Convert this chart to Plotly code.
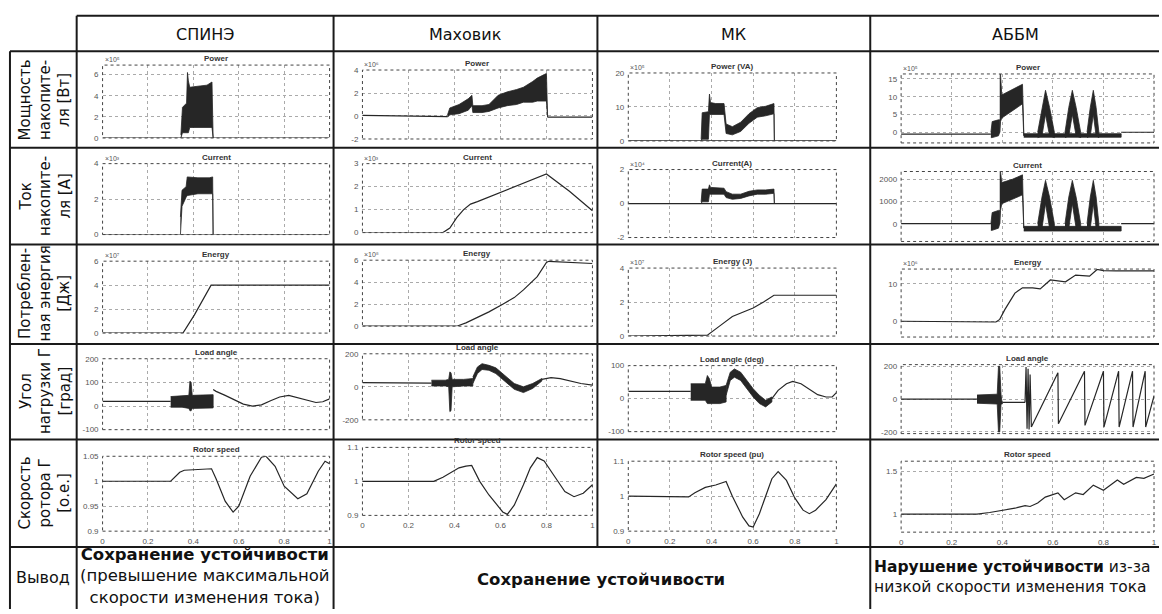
import plotly.graph_objects as go

W, H = 1162, 614

# ---------------- table text ----------------
col_headers = ["СПИНЭ", "Маховик", "МК", "АББМ"]
row_labels = [
    "Мощность<br>накопите-<br>ля [Вт]",
    "Ток<br>накопите-<br>ля [А]",
    "Потреблен-<br>ная энергия<br>[Дж]",
    "Угол<br>нагрузки Г<br>[град]",
    "Скорость<br>ротора Г<br>[о.е.]",
]
conclusion_label = "Вывод"
conclusion_col1 = "<b>Сохранение устойчивости</b><br>(превышение максимальной<br>скорости изменения тока)"
conclusion_col23 = "<b>Сохранение устойчивости</b>"
conclusion_col4 = "<b>Нарушение устойчивости</b> из-за<br>низкой скорости изменения тока"

# ---------------- shared axis ticks ----------------
x_ticks = [0, 0.2, 0.4, 0.6, 0.8, 1]
x_tick_labels = ["0", "0.2", "0.4", "0.6", "0.8", "1"]

# ---------------- СПИНЭ ----------------
spine_p_base_x = [0, 1]
spine_p_base_y = [0, 0]
spine_p_band_x = [0.345, 0.352, 0.370, 0.374, 0.378, 0.384, 0.42, 0.46, 0.482, 0.487]
spine_p_band_hi = [0.3, 2.9, 3.3, 6.2, 5.4, 4.8, 4.9, 5.0, 5.3, 0.3]
spine_p_band_lo = [0.0, 0.5, 0.5, 0.5, 0.5, 1.0, 1.0, 1.0, 1.0, 0.0]

spine_i_base_x = [0, 1]
spine_i_base_y = [0, 0]
spine_i_band_x = [0.343, 0.350, 0.368, 0.373, 0.42, 0.47, 0.485, 0.487]
spine_i_band_hi = [1.0, 2.5, 2.7, 3.25, 3.2, 3.2, 3.25, 0.5]
spine_i_band_lo = [0.0, 1.6, 2.1, 2.2, 2.3, 2.3, 2.3, 0.0]

spine_e_x = [0, 0.354, 0.404, 0.45, 0.478, 1]
spine_e_y = [0, 0, 1.5, 3.1, 4.0, 4.0]

spine_la_pre_x = [0, 0.30]
spine_la_pre_y = [20, 20]
spine_la_band_x = [0.30, 0.35, 0.38, 0.385, 0.39, 0.395, 0.44, 0.487]
spine_la_band_hi = [40, 42, 45, 105, 100, 45, 45, 48]
spine_la_band_lo = [-5, -5, -10, -20, -20, -10, -8, -8]
spine_la_post_x = [0.487, 0.50, 0.54, 0.58, 0.62, 0.66, 0.70, 0.74, 0.78, 0.82, 0.86, 0.90, 0.94, 0.97, 1.0]
spine_la_post_y = [70, 62, 45, 25, 8, 0, 5, 22, 38, 45, 35, 22, 15, 18, 30]

spine_w_x = [0, 0.30, 0.34, 0.36, 0.48, 0.50, 0.54, 0.575, 0.60, 0.65, 0.70, 0.72, 0.76, 0.80, 0.86, 0.90, 0.95, 0.98, 1.0]
spine_w_y = [1.0, 1.0, 1.018, 1.022, 1.025, 1.005, 0.96, 0.938, 0.95, 1.01, 1.048, 1.05, 1.03, 0.99, 0.965, 0.975, 1.02, 1.04, 1.035]

# ---------------- Маховик ----------------
fly_p_pre_x = [0, 0.37]
fly_p_pre_y = [0.05, -0.05]
fly_p_post_x = [0.805, 1]
fly_p_post_y = [-0.1, -0.1]
fly_p_band_x = [0.37, 0.38, 0.42, 0.46, 0.476, 0.48, 0.52, 0.55, 0.59, 0.63, 0.67, 0.70, 0.74, 0.76, 0.79, 0.80, 0.805]
fly_p_band_hi = [0.1, 0.7, 1.0, 1.5, 1.8, 0.9, 0.9, 1.0, 1.8, 2.1, 2.3, 2.5, 3.0, 3.3, 3.6, 3.7, 0.0]
fly_p_band_lo = [-0.1, 0.1, 0.2, 0.5, 0.9, 0.3, 0.3, 0.4, 0.7, 0.9, 1.0, 1.2, 1.2, 1.3, 1.3, 1.3, -0.1]

fly_i_x = [0, 0.35, 0.38, 0.41, 0.44, 0.47, 0.50, 0.55, 0.60, 0.70, 0.80, 0.90, 1.0]
fly_i_y = [0, 0, 0.2, 0.65, 1.0, 1.24, 1.35, 1.55, 1.75, 2.15, 2.55, 1.8, 0.95]

fly_e_x = [0, 0.41, 0.45, 0.50, 0.55, 0.61, 0.66, 0.70, 0.76, 0.80, 0.81, 1.0]
fly_e_y = [0, 0, 0.3, 0.8, 1.3, 2.0, 2.6, 3.3, 4.5, 5.8, 5.9, 5.7]

fly_la_pre_x = [0, 0.30]
fly_la_pre_y = [25, 22]
fly_la_band_x = [0.30, 0.36, 0.375, 0.38, 0.385, 0.39, 0.44, 0.48]
fly_la_band_hi = [40, 40, 45, 90, 85, 45, 45, 50]
fly_la_band_lo = [5, 5, 0, -150, -145, 0, 5, 5]
fly_la_wave_x = [0.48, 0.50, 0.52, 0.55, 0.58, 0.62, 0.66, 0.70, 0.74, 0.78]
fly_la_wave_hi = [60, 120, 140, 130, 115, 70, 20, 0, 20, 50]
fly_la_wave_lo = [20, 80, 105, 100, 80, 35, -15, -35, -10, 35]
fly_la_post_x = [0.78, 0.82, 0.86, 0.90, 0.95, 1.0]
fly_la_post_y = [45, 55, 50, 35, 20, 10]

fly_w_x = [0, 0.31, 0.35, 0.38, 0.42, 0.45, 0.475, 0.51, 0.55, 0.58, 0.61, 0.63, 0.66, 0.70, 0.73, 0.76, 0.79, 0.84, 0.88, 0.92, 0.96, 1.0]
fly_w_y = [1.0, 1.0, 1.012, 1.025, 1.04, 1.045, 1.047, 1.0, 0.96, 0.935, 0.91, 0.903, 0.93, 0.99, 1.04, 1.07, 1.06, 1.01, 0.97, 0.955, 0.965, 0.99]

# ---------------- МК ----------------
mk_p_base_x = [0, 1]
mk_p_base_y = [0, 0]
mk_p_band_x = [0.35, 0.355, 0.385, 0.39, 0.395, 0.42, 0.46, 0.47, 0.50, 0.54, 0.58, 0.62, 0.66, 0.70, 0.702]
mk_p_band_hi = [0.5, 8.3, 8.6, 13.8, 11.3, 11.0, 11.0, 5.0, 4.2, 5.5, 8.0, 9.8, 10.2, 11.0, 0.0]
mk_p_band_lo = [0.0, 0.5, 0.5, 7.8, 7.8, 7.8, 7.8, 2.2, 1.8, 2.8, 5.2, 7.0, 7.4, 8.0, 0.0]

mk_i_base_x = [0, 1]
mk_i_base_y = [0, 0]
mk_i_band_x = [0.35, 0.355, 0.385, 0.39, 0.395, 0.46, 0.47, 0.50, 0.54, 0.58, 0.62, 0.66, 0.70, 0.702]
mk_i_band_hi = [0.1, 0.85, 0.85, 1.1, 0.95, 0.9, 0.7, 0.55, 0.55, 0.72, 0.8, 0.8, 0.85, 0.0]
mk_i_band_lo = [0.0, 0.1, 0.1, 0.55, 0.55, 0.55, 0.35, 0.25, 0.3, 0.45, 0.55, 0.55, 0.6, 0.0]

mk_e_x = [0, 0.38, 0.44, 0.50, 0.55, 0.60, 0.65, 0.70, 1.0]
mk_e_y = [0, 0.05, 0.6, 1.15, 1.4, 1.65, 2.0, 2.4, 2.4]

mk_la_pre_x = [0, 0.30]
mk_la_pre_y = [22, 22]
mk_la_band_x = [0.30, 0.37, 0.38, 0.39, 0.40, 0.44, 0.47]
mk_la_band_hi = [45, 45, 70, 60, 35, 35, 40]
mk_la_band_lo = [-5, -5, -15, -15, -15, -15, -10]
mk_la_wave_x = [0.47, 0.49, 0.51, 0.54, 0.57, 0.60, 0.63, 0.66, 0.69]
mk_la_wave_hi = [40, 80, 90, 80, 55, 30, 10, -5, 5]
mk_la_wave_lo = [10, 55, 65, 55, 30, 5, -15, -25, -10]
mk_la_post_x = [0.69, 0.72, 0.76, 0.79, 0.83, 0.87, 0.91, 0.95, 0.98, 1.0]
mk_la_post_y = [0, 25, 45, 52, 45, 28, 12, 5, 5, 18]

mk_w_x = [0, 0.29, 0.32, 0.37, 0.42, 0.47, 0.50, 0.55, 0.58, 0.60, 0.63, 0.66, 0.69, 0.72, 0.76, 0.80, 0.84, 0.87, 0.90, 0.95, 1.0]
mk_w_y = [1.0, 0.998, 1.01, 1.025, 1.032, 1.042, 1.0, 0.94, 0.915, 0.912, 0.95, 1.0, 1.05, 1.07, 1.045, 0.995, 0.96, 0.95, 0.96, 0.99, 1.035]

# ---------------- АББМ ----------------
ab_p_pre_x = [0, 0.355]
ab_p_pre_y = [-0.5, -0.5]
ab_p_b1_x = [0.355, 0.36, 0.385, 0.39]
ab_p_b1_hi = [0.0, 3.0, 3.5, 3.5]
ab_p_b1_lo = [-1.5, -1.5, -1.0, 0.0]
ab_p_b2_x = [0.39, 0.393, 0.398, 0.44, 0.48, 0.485]
ab_p_b2_hi = [16.4, 16.4, 10.5, 12.0, 13.5, 0.0]
ab_p_b2_lo = [0.0, 3.0, 4.0, 6.0, 8.0, -1.0]
ab_p_floor_x = [0.485, 0.87]
ab_p_floor_hi = [-0.4, -0.4]
ab_p_floor_lo = [-1.4, -1.4]
ab_p_pk1_x = [0.54, 0.557, 0.571, 0.587, 0.606]
ab_p_pk2_x = [0.648, 0.663, 0.677, 0.692, 0.71]
ab_p_pk3_x = [0.735, 0.748, 0.76, 0.771, 0.782]
ab_p_pk_hi = [0.0, 7.0, 11.8, 7.0, 0.0]
ab_p_pk_lo = [-1.5, -1.0, 5.0, -1.0, -1.5]
ab_p_post_x = [0.87, 1.0]
ab_p_post_y = [0.0, 0.0]

ab_i_pre_x = [0, 0.355]
ab_i_pre_y = [0, 0]
ab_i_b1_x = [0.355, 0.36, 0.385, 0.39]
ab_i_b1_hi = [0, 500, 600, 600]
ab_i_b1_lo = [-300, -300, -200, 0]
ab_i_b2_x = [0.39, 0.393, 0.398, 0.44, 0.48, 0.485]
ab_i_b2_hi = [2350, 2350, 1850, 2000, 2200, 0]
ab_i_b2_lo = [0, 600, 900, 1100, 1300, -200]
ab_i_floor_x = [0.485, 0.87]
ab_i_floor_hi = [-120, -120]
ab_i_floor_lo = [-330, -330]
ab_i_pk_hi = [0, 1200, 1950, 1200, 0]
ab_i_pk_lo = [-300, -200, 900, -200, -300]
ab_i_post_x = [0.87, 1.0]
ab_i_post_y = [0, 0]

ab_e_x = [0, 0.375, 0.39, 0.41, 0.45, 0.48, 0.52, 0.55, 0.59, 0.62, 0.65, 0.69, 0.72, 0.745, 0.775, 0.80, 0.85, 1.0]
ab_e_y = [0, -0.2, 0.5, 3.1, 7.5, 8.9, 8.9, 8.6, 11.0, 10.8, 10.5, 12.3, 12.2, 12.0, 13.8, 13.5, 13.4, 13.4]

ab_la_pre_x = [0, 0.30]
ab_la_pre_y = [0, 0]
ab_la_band_x = [0.30, 0.38, 0.385, 0.39, 0.395, 0.40]
ab_la_band_hi = [25, 30, 200, 200, 30, -10]
ab_la_band_lo = [-25, -30, -200, -200, -30, -30]
ab_la_mid_x = [0.40, 0.49]
ab_la_mid_y = [-20, -20]
ab_la_osc_x = [0.49, 0.494, 0.498, 0.502, 0.506, 0.510, 0.515]
ab_la_osc_y = [-20, 195, -180, 185, -185, 150, -170]
ab_la_saw_x = [0.515, 0.62, 0.622, 0.725, 0.727, 0.80, 0.802, 0.86, 0.862, 0.915, 0.917, 0.965, 0.967, 1.0]
ab_la_saw_y = [-170, 160, -150, 170, -160, 170, -170, 170, -170, 170, -170, 170, -170, 20]

ab_w_x = [0, 0.30, 0.35, 0.41, 0.45, 0.49, 0.51, 0.54, 0.57, 0.62, 0.645, 0.69, 0.72, 0.76, 0.80, 0.855, 0.88, 0.93, 0.96, 1.0]
ab_w_y = [1.0, 1.0, 1.02, 1.045, 1.07, 1.1, 1.09, 1.13, 1.2, 1.25, 1.17, 1.25, 1.23, 1.34, 1.28, 1.40, 1.35, 1.43, 1.42, 1.47]

# ---------------- panel definitions ----------------
panels = {
    (0, 0): dict(title="Power", exp="×10⁵", yr=[0, 6.9], yt=[0, 2, 4, 6], ytl=["0", "2", "4", "6"],
                 lines=[(spine_p_base_x, spine_p_base_y)],
                 bands=[(spine_p_band_x, spine_p_band_hi, spine_p_band_lo)]),
    (1, 0): dict(title="Current", exp="×10³", yr=[0, 4], yt=[0, 2, 4], ytl=["0", "2", "4"],
                 lines=[(spine_i_base_x, spine_i_base_y)],
                 bands=[(spine_i_band_x, spine_i_band_hi, spine_i_band_lo)]),
    (2, 0): dict(title="Energy", exp="×10⁷", yr=[0, 6], yt=[0, 2, 4, 6], ytl=["0", "2", "4", "6"],
                 lines=[(spine_e_x, spine_e_y)], bands=[]),
    (3, 0): dict(title="Load angle", exp="", yr=[-100, 200], yt=[-100, 0, 100, 200], ytl=["-100", "0", "100", "200"],
                 lines=[(spine_la_pre_x, spine_la_pre_y), (spine_la_post_x, spine_la_post_y)],
                 bands=[(spine_la_band_x, spine_la_band_hi, spine_la_band_lo)]),
    (4, 0): dict(title="Rotor speed", exp="", yr=[0.9, 1.05], yt=[0.9, 0.95, 1, 1.05], ytl=["0.9", "0.95", "1", "1.05"],
                 lines=[(spine_w_x, spine_w_y)], bands=[]),

    (0, 1): dict(title="Power", exp="×10⁶", yr=[-2, 4], yt=[-2, 0, 2, 4], ytl=["-2", "0", "2", "4"],
                 lines=[(fly_p_pre_x, fly_p_pre_y), (fly_p_post_x, fly_p_post_y)],
                 bands=[(fly_p_band_x, fly_p_band_hi, fly_p_band_lo)]),
    (1, 1): dict(title="Current", exp="×10³", yr=[0, 3], yt=[0, 1, 2, 3], ytl=["0", "1", "2", "3"],
                 lines=[(fly_i_x, fly_i_y)], bands=[]),
    (2, 1): dict(title="Energy", exp="×10⁸", yr=[0, 6], yt=[0, 2, 4, 6], ytl=["0", "2", "4", "6"],
                 lines=[(fly_e_x, fly_e_y)], bands=[]),
    (3, 1): dict(title="Load angle", exp="", yr=[-200, 200], yt=[-200, 0, 200], ytl=["-200", "0", "200"],
                 lines=[(fly_la_pre_x, fly_la_pre_y), (fly_la_post_x, fly_la_post_y)],
                 bands=[(fly_la_band_x, fly_la_band_hi, fly_la_band_lo),
                        (fly_la_wave_x, fly_la_wave_hi, fly_la_wave_lo)]),
    (4, 1): dict(title="Rotor speed", exp="", yr=[0.9, 1.1], yt=[0.9, 1, 1.1], ytl=["0.9", "1", "1.1"],
                 lines=[(fly_w_x, fly_w_y)], bands=[]),

    (0, 2): dict(title="Power (VA)", exp="×10⁵", yr=[0, 20], yt=[0, 10, 20], ytl=["0", "10", "20"],
                 lines=[(mk_p_base_x, mk_p_base_y)],
                 bands=[(mk_p_band_x, mk_p_band_hi, mk_p_band_lo)]),
    (1, 2): dict(title="Current(A)", exp="×10⁴", yr=[-2, 2], yt=[-2, 0, 2], ytl=["-2", "0", "2"],
                 lines=[(mk_i_base_x, mk_i_base_y)],
                 bands=[(mk_i_band_x, mk_i_band_hi, mk_i_band_lo)]),
    (2, 2): dict(title="Energy (J)", exp="×10⁷", yr=[0, 4], yt=[0, 2, 4], ytl=["0", "2", "4"],
                 lines=[(mk_e_x, mk_e_y)], bands=[]),
    (3, 2): dict(title="Load angle (deg)", exp="", yr=[-100, 100], yt=[-100, 0, 100], ytl=["-100", "0", "100"],
                 lines=[(mk_la_pre_x, mk_la_pre_y), (mk_la_post_x, mk_la_post_y)],
                 bands=[(mk_la_band_x, mk_la_band_hi, mk_la_band_lo),
                        (mk_la_wave_x, mk_la_wave_hi, mk_la_wave_lo)]),
    (4, 2): dict(title="Rotor speed (pu)", exp="", yr=[0.9, 1.1], yt=[0.9, 1, 1.1], ytl=["0.9", "1", "1.1"],
                 lines=[(mk_w_x, mk_w_y)], bands=[]),

    (0, 3): dict(title="Power", exp="×10⁵", yr=[-3, 16.4], yt=[0, 5, 10, 15], ytl=["0", "5", "10", "15"],
                 lines=[(ab_p_pre_x, ab_p_pre_y), (ab_p_post_x, ab_p_post_y)],
                 bands=[(ab_p_b1_x, ab_p_b1_hi, ab_p_b1_lo), (ab_p_b2_x, ab_p_b2_hi, ab_p_b2_lo),
                        (ab_p_floor_x, ab_p_floor_hi, ab_p_floor_lo),
                        (ab_p_pk1_x, ab_p_pk_hi, ab_p_pk_lo), (ab_p_pk2_x, ab_p_pk_hi, ab_p_pk_lo),
                        (ab_p_pk3_x, ab_p_pk_hi, ab_p_pk_lo)]),
    (1, 3): dict(title="Current", exp="", yr=[-800, 2350], yt=[0, 1000, 2000], ytl=["0", "1000", "2000"],
                 lines=[(ab_i_pre_x, ab_i_pre_y), (ab_i_post_x, ab_i_post_y)],
                 bands=[(ab_i_b1_x, ab_i_b1_hi, ab_i_b1_lo), (ab_i_b2_x, ab_i_b2_hi, ab_i_b2_lo),
                        (ab_i_floor_x, ab_i_floor_hi, ab_i_floor_lo),
                        (ab_p_pk1_x, ab_i_pk_hi, ab_i_pk_lo), (ab_p_pk2_x, ab_i_pk_hi, ab_i_pk_lo),
                        (ab_p_pk3_x, ab_i_pk_hi, ab_i_pk_lo)]),
    (2, 3): dict(title="Energy", exp="×10⁶", yr=[-4.2, 13.9], yt=[0, 10], ytl=["0", "10"],
                 lines=[(ab_e_x, ab_e_y)], bands=[]),
    (3, 3): dict(title="Load angle", exp="", yr=[-210, 210], yt=[-200, 0, 200], ytl=["-200", "0", "200"],
                 lines=[(ab_la_pre_x, ab_la_pre_y), (ab_la_mid_x, ab_la_mid_y),
                        (ab_la_osc_x, ab_la_osc_y), (ab_la_saw_x, ab_la_saw_y)],
                 bands=[(ab_la_band_x, ab_la_band_hi, ab_la_band_lo)]),
    (4, 3): dict(title="Rotor speed", exp="", yr=[0.79, 1.62], yt=[1, 1.5], ytl=["1", "1.5"],
                 lines=[(ab_w_x, ab_w_y)], bands=[]),
}

# ---------------- geometry (pixels) ----------------
col_x_px = [(101, 329), (362, 593), (629, 838), (903, 1157)]
row_y_px = [
    [(62, 136), (162, 234), (261, 334), (360, 432), (459, 535)],
    [(67, 137), (162, 232), (260, 327), (355, 422), (450, 519)],
    [(70, 139), (168, 237), (268, 337), (367, 434), (464, 535)],
    [(71, 141), (170, 241), (269, 338), (366, 436), (464, 536)],
]

def fx(p):
    return p / W

def fy(p):
    return 1 - p / H

LINE_C = "#262626"
fig = go.Figure()
layout = dict(width=W, height=H, margin=dict(l=0, r=0, t=0, b=0),
              paper_bgcolor="white", plot_bgcolor="white", showlegend=False)
shapes = []
annotations = []
tick_font = dict(family="Liberation Sans, Arial", size=8, color="#555")

for (r, c), p in panels.items():
    k = r * 4 + c + 1
    xa = "x" if k == 1 else f"x{k}"
    ya = "y" if k == 1 else f"y{k}"
    x0, x1 = col_x_px[c]
    y0, y1 = row_y_px[c][r]
    layout["xaxis" if k == 1 else f"xaxis{k}"] = dict(
        domain=[fx(x0), fx(x1)], anchor=ya, range=[0, 1], tickmode="array",
        tickvals=x_ticks, ticktext=x_tick_labels, showticklabels=(r == 4),
        tickfont=tick_font, showgrid=True, gridcolor="#aaaaaa", griddash="dot",
        gridwidth=1, zeroline=False, showline=False, ticks="", fixedrange=True,
        ticklabelstandoff=4)
    layout["yaxis" if k == 1 else f"yaxis{k}"] = dict(
        domain=[fy(y1), fy(y0)], anchor=xa, range=p["yr"], tickmode="array",
        tickvals=p["yt"], ticktext=p["ytl"], tickfont=tick_font, showgrid=True,
        gridcolor="#aaaaaa", griddash="dot", gridwidth=1, zeroline=False,
        showline=False, ticks="", fixedrange=True, ticklabelstandoff=3)
    for bx, bhi, blo in p["bands"]:
        fig.add_trace(go.Scatter(
            x=list(bx) + list(bx)[::-1], y=list(bhi) + list(blo)[::-1],
            fill="toself", fillcolor=LINE_C, mode="lines",
            line=dict(color=LINE_C, width=0.8), xaxis=xa, yaxis=ya,
            hoverinfo="skip", showlegend=False))
    for lx, ly in p["lines"]:
        fig.add_trace(go.Scatter(
            x=lx, y=ly, mode="lines", line=dict(color=LINE_C, width=1.2),
            xaxis=xa, yaxis=ya, hoverinfo="skip", showlegend=False))
    # dotted frame
    shapes.append(dict(type="rect", xref=f"{xa} domain", yref=f"{ya} domain",
                       x0=0, x1=1, y0=0, y1=1, line=dict(color="#444", width=1, dash="dot")))
    # title
    annotations.append(dict(text=f"<b>{p['title']}</b>", xref=f"{xa} domain", yref=f"{ya} domain",
                            x=0.5, y=1.0, xanchor="center", yanchor="bottom", showarrow=False,
                            font=dict(family="Liberation Sans, Arial", size=8, color="#333")))
    if p["exp"]:
        annotations.append(dict(text=p["exp"], xref=f"{xa} domain", yref=f"{ya} domain",
                                x=0.0, y=1.0, xanchor="left", yanchor="bottom", showarrow=False,
                                font=dict(family="Liberation Sans, Arial", size=7, color="#555")))

# ---------------- table grid ----------------
TC = "#1a1a1a"
h_lines = [(75, 1162, 12), (8, 1162, 48), (8, 1162, 146), (8, 1162, 244),
           (8, 1162, 345), (8, 1162, 442), (8, 1162, 551)]
v_lines = [(8, 48, 614), (75, 12, 614), (333, 12, 614), (598, 12, 551), (872, 12, 614)]
for xa_, xb_, yy in h_lines:
    shapes.append(dict(type="line", xref="paper", yref="paper", x0=fx(xa_), x1=fx(xb_),
                       y0=fy(yy), y1=fy(yy), line=dict(color=TC, width=2)))
for xx, ya_, yb_ in v_lines:
    shapes.append(dict(type="line", xref="paper", yref="paper", x0=fx(xx), x1=fx(xx),
                       y0=fy(ya_), y1=fy(yb_), line=dict(color=TC, width=2)))

hdr_font = dict(family="DejaVu Sans, Arial", size=16, color="#111")
lbl_font = dict(family="DejaVu Sans, Arial", size=15, color="#111")
con_font = dict(family="DejaVu Sans, Arial", size=16.5, color="#111")
con4_font = dict(family="DejaVu Sans, Arial", size=15.5, color="#111")
header_cx = [204, 466, 735, 1018]
for name, cx in zip(col_headers, header_cx):
    annotations.append(dict(text=name, xref="paper", yref="paper", x=fx(cx), y=fy(31),
                            xanchor="center", yanchor="middle", showarrow=False, font=hdr_font))

row_cy = [97, 195, 294, 393, 496]
for lab, cy in zip(row_labels, row_cy):
    annotations.append(dict(text=lab, xref="paper", yref="paper", x=fx(43), y=fy(cy),
                            xanchor="center", yanchor="middle", textangle=-90, showarrow=False,
                            font=lbl_font))

annotations.append(dict(text=conclusion_label, xref="paper", yref="paper", x=fx(41), y=fy(582),
                        xanchor="center", yanchor="middle", showarrow=False,
                        font=dict(family="DejaVu Sans, Arial", size=16, color="#111")))
annotations.append(dict(text=conclusion_col1, xref="paper", yref="paper", x=fx(204), y=fy(581),
                        xanchor="center", yanchor="middle", align="center", showarrow=False,
                        font=con_font))
annotations.append(dict(text=conclusion_col23, xref="paper", yref="paper", x=fx(602), y=fy(584),
                        xanchor="center", yanchor="middle", showarrow=False, font=con_font))
annotations.append(dict(text=conclusion_col4, xref="paper", yref="paper", x=fx(874), y=fy(582),
                        xanchor="left", yanchor="middle", align="left", showarrow=False,
                        font=con4_font))

layout["shapes"] = shapes
layout["annotations"] = annotations
fig.update_layout(**layout)
fig.write_html("out.html")
